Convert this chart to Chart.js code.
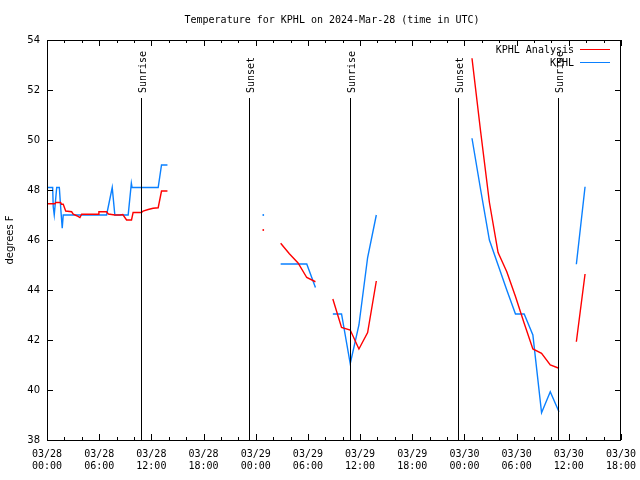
<!DOCTYPE html>
<html>
<head>
<meta charset="utf-8">
<script src="https://cdn.jsdelivr.net/npm/chart.js@4/dist/chart.umd.min.js"></script>
<style>
  html, body { margin: 0; padding: 0; background: #fff; }
  #wrap { width: 640px; height: 480px; }
</style>
</head>
<body>
<div id="wrap"><canvas id="tempChart" width="640" height="480"></canvas></div>
<script>
// start of the plot: 03/28 00:00 UTC, axis runs 66 hours
const chartTitle = "Temperature for KPHL on 2024-Mar-28 (time in UTC)";
const yTitle = "degrees F";
const xMaxHours = 66;
const yMin = 38, yMax = 54;

// "gap" rows carry a null temperature so the line breaks there
const analysisTimes = [
  "03/28 00:00","03/28 00:55","03/28 01:00","03/28 01:34","03/28 01:40","03/28 01:52","03/28 02:09",
  "03/28 02:50","03/28 03:01","03/28 03:25","03/28 03:47","03/28 03:59","03/28 05:53","03/28 05:58",
  "03/28 06:51","03/28 07:03","03/28 07:48","03/28 08:23","03/28 08:43","03/28 09:09","03/28 09:43",
  "03/28 09:54","03/28 10:52","03/28 11:03","03/28 11:38","03/28 12:12","03/28 12:47","03/28 13:10",
  "03/28 13:51",
  "03/28 19:00",
  "03/29 00:52",
  "03/29 01:52",
  "03/29 02:52","03/29 03:52","03/29 04:52","03/29 05:52","03/29 06:52",
  "03/29 07:52",
  "03/29 08:52","03/29 09:52","03/29 10:52","03/29 11:52","03/29 12:52","03/29 13:52",
  "03/29 19:00",
  "03/30 00:52","03/30 01:52","03/30 02:52","03/30 03:52","03/30 04:52","03/30 05:52","03/30 06:52",
  "03/30 07:52","03/30 08:52","03/30 09:52","03/30 10:52",
  "03/30 11:52",
  "03/30 12:52","03/30 13:52"
];
const analysisTemps = [
  47.45,47.45,47.5,47.5,47.43,47.43,47.16,
  47.13,47.03,46.97,46.9,47.03,47.03,47.13,
  47.13,47.04,47.0,47.0,47.02,46.8,46.8,
  47.1,47.1,47.16,47.22,47.27,47.29,47.96,
  47.96,
  null,
  46.4,
  null,
  45.87,45.45,45.08,44.5,44.33,
  null,
  43.64,42.5,42.4,41.64,42.3,44.36,
  null,
  53.27,50.32,47.51,45.5,44.73,43.74,42.67,
  41.64,41.47,41.0,40.87,
  null,
  41.93,44.64
];

const obsTimes = [
  "03/28 00:00","03/28 00:39","03/28 00:43","03/28 00:50","03/28 01:07","03/28 01:25","03/28 01:34",
  "03/28 01:45","03/28 01:52","03/28 06:51","03/28 07:30","03/28 07:48","03/28 09:20","03/28 09:42",
  "03/28 09:47","03/28 12:47","03/28 13:10","03/28 13:51",
  "03/28 19:00",
  "03/29 00:52",
  "03/29 01:52",
  "03/29 02:52","03/29 03:52","03/29 04:52","03/29 05:52","03/29 06:52",
  "03/29 07:52",
  "03/29 08:52","03/29 09:52","03/29 10:52","03/29 11:52","03/29 12:52","03/29 13:52",
  "03/29 19:00",
  "03/30 00:52","03/30 01:52","03/30 02:52","03/30 03:52","03/30 04:52","03/30 05:52","03/30 06:52",
  "03/30 07:52","03/30 08:52","03/30 09:52","03/30 10:52",
  "03/30 11:52",
  "03/30 12:52","03/30 13:52"
];
const obsTemps = [
  48.1,48.1,47.33,47.0,48.1,48.1,47.33,
  46.47,47.0,47.0,48.1,47.0,47.0,48.27,
  48.1,48.1,49.0,49.0,
  null,
  47.0,
  null,
  45.04,45.04,45.04,45.04,44.1,
  null,
  43.04,43.04,41.05,42.6,45.3,47.0,
  null,
  50.07,48.0,46.0,45.0,44.0,43.04,43.04,
  42.2,39.09,39.93,39.13,
  null,
  45.03,48.13
];

const sunTimes = ["03/28 10:47","03/28 23:13","03/29 10:48","03/29 23:13","03/30 10:48"];
const sunLabels = ["Sunrise","Sunset","Sunrise","Sunset","Sunrise"];

const monoFont = "'DejaVu Sans Mono', monospace";
const sansFont = "'DejaVu Sans', sans-serif";

function toHours(s) {
  const day = parseInt(s.slice(3, 5));
  const hh = parseInt(s.slice(6, 8));
  const mm = parseInt(s.slice(9, 11));
  return (day - 28) * 24 + hh + mm / 60;
}

const toPoints = (times, temps) => times.map((t, i) => ({x: toHours(t), y: temps[i]}));

// single readings between gaps are drawn as a dot, everything else as line only
function loneRadius(c) {
  const d = c.dataset.data, i = c.dataIndex;
  if (d[i].y == null) return 0;
  const prev = i > 0 ? d[i - 1].y : null;
  const next = i < d.length - 1 ? d[i + 1].y : null;
  return (prev == null && next == null) ? 0.9 : 0;
}

const decorations = {
  id: "decorations",
  afterDatasetsDraw(chart) {
    const {ctx, chartArea: a, scales: {x, y}} = chart;
    ctx.save();
    ctx.strokeStyle = "#000";
    ctx.fillStyle = "#000";
    ctx.lineWidth = 1;

    // frame
    ctx.strokeRect(a.left + 0.5, a.top + 0.5, a.right - a.left - 1, a.bottom - a.top);

    // inward ticks
    ctx.beginPath();
    for (let h = 0; h <= xMaxHours; h += 2) {
      const px = Math.round(x.getPixelForValue(h)) + 0.5;
      const len = h % 6 == 0 ? 6 : 3;
      ctx.moveTo(px, a.bottom); ctx.lineTo(px, a.bottom - len);
      ctx.moveTo(px, a.top); ctx.lineTo(px, a.top + len);
    }
    for (let v = yMin; v <= yMax; v += 2) {
      const py = Math.round(y.getPixelForValue(v)) + 0.5;
      ctx.moveTo(a.left, py); ctx.lineTo(a.left + 6, py);
      ctx.moveTo(a.right, py); ctx.lineTo(a.right - 6, py);
    }
    ctx.stroke();

    // sunrise / sunset markers
    ctx.font = "10px " + monoFont;
    sunTimes.forEach((t, i) => {
      const px = Math.round(x.getPixelForValue(toHours(t))) + 0.5;
      ctx.beginPath();
      ctx.moveTo(px, a.top + 58);
      ctx.lineTo(px, a.bottom);
      ctx.stroke();
      ctx.save();
      ctx.translate(px + 2, a.top + 53);
      ctx.rotate(-Math.PI / 2);
      ctx.textAlign = "left";
      ctx.textBaseline = "middle";
      ctx.fillText(sunLabels[i], 0, 0);
      ctx.restore();
    });

    // title
    ctx.textAlign = "center";
    ctx.textBaseline = "middle";
    ctx.fillText(chartTitle, (a.left + a.right) / 2 - 2, 20);

    // key
    ctx.textAlign = "right";
    chart.data.datasets.forEach((ds, i) => {
      const ly = a.top + 9.5 + i * 13;
      ctx.fillStyle = "#000";
      ctx.fillText(ds.label, a.right - 47, ly + 0.5);
      ctx.strokeStyle = ds.borderColor;
      ctx.beginPath();
      ctx.moveTo(a.right - 41, ly);
      ctx.lineTo(a.right - 11, ly);
      ctx.stroke();
    });
    ctx.restore();
  }
};

const dayNames = ["03/28", "03/29", "03/30", "03/31"];

new Chart(document.getElementById("tempChart"), {
  type: "line",
  data: {
    datasets: [
      {
        label: "KPHL Analysis",
        data: toPoints(analysisTimes, analysisTemps),
        borderColor: "#ff0000",
        backgroundColor: "#ff0000",
        borderWidth: 1.4,
        pointRadius: loneRadius,
        pointBorderWidth: 0,
        tension: 0,
        spanGaps: false
      },
      {
        label: "KPHL",
        data: toPoints(obsTimes, obsTemps),
        borderColor: "#0a80ff",
        backgroundColor: "#0a80ff",
        borderWidth: 1.4,
        pointRadius: loneRadius,
        pointBorderWidth: 0,
        tension: 0,
        spanGaps: false
      }
    ]
  },
  options: {
    responsive: false,
    animation: false,
    layout: {padding: {top: 40, right: 19, left: 0, bottom: 0}},
    scales: {
      x: {
        type: "linear",
        min: 0,
        max: xMaxHours,
        afterFit(s) { s.height = 40; s.paddingLeft = 0; s.paddingRight = 0; },
        grid: {display: false, drawTicks: false},
        border: {display: false},
        ticks: {
          stepSize: 6,
          autoSkip: false,
          maxRotation: 0,
          padding: 8,
          color: "#000",
          font: {family: monoFont, size: 10},
          callback(v) {
            const d = Math.floor(v / 24);
            const hh = String(v % 24).padStart(2, "0");
            return [dayNames[d], hh + ":00"];
          }
        }
      },
      y: {
        min: yMin,
        max: yMax,
        afterFit(s) { s.width = 47; },
        grid: {display: false, drawTicks: false},
        border: {display: false},
        ticks: {
          stepSize: 2,
          padding: 7,
          color: "#000",
          font: {family: sansFont, size: 10}
        },
        title: {
          display: true,
          text: yTitle,
          color: "#000",
          font: {family: sansFont, size: 10}
        }
      }
    },
    plugins: {
      legend: {display: false},
      tooltip: {enabled: false}
    }
  },
  plugins: [decorations]
});
</script>
</body>
</html>
